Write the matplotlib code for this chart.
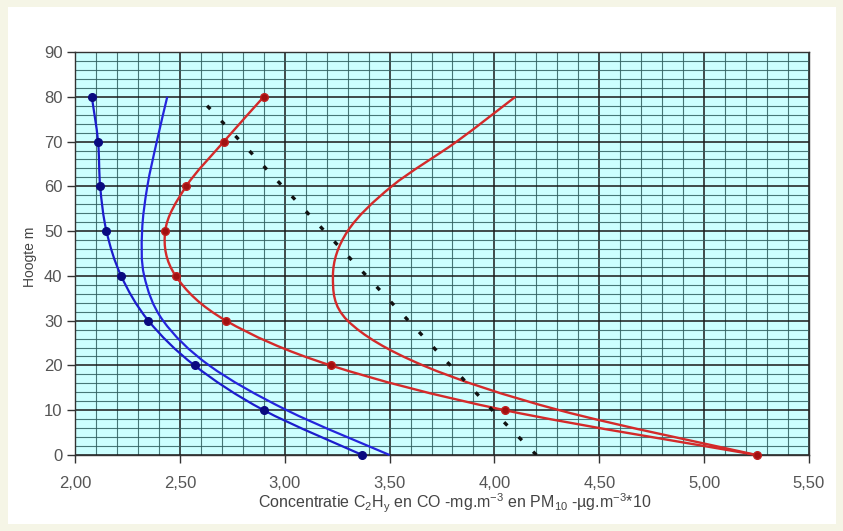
import matplotlib
matplotlib.use("Agg")
import matplotlib.pyplot as plt
from matplotlib.path import Path
from matplotlib.patches import PathPatch, Rectangle
from matplotlib.ticker import MultipleLocator, FuncFormatter

plt.rcParams['font.family'] = ['Liberation Sans', 'DejaVu Sans']
plt.rcParams['mathtext.fontset'] = 'custom'
plt.rcParams['mathtext.rm'] = 'Liberation Sans'
plt.rcParams['mathtext.it'] = 'Liberation Sans'

# ---- data ----
heights = [80, 70, 60, 50, 40, 30, 20, 10, 0]
blue_marked = [2.08, 2.11, 2.12, 2.15, 2.22, 2.35, 2.57, 2.90, 3.37]
blue_plain = [2.44, 2.39, 2.345, 2.32, 2.33, 2.42, 2.64, 3.01, 3.50]
red_marked = [2.90, 2.71, 2.53, 2.43, 2.48, 2.72, 3.22, 4.05, 5.25]
red_plain = [4.10, 3.82, 3.51, 3.30, 3.23, 3.30, 3.66, 4.31, 5.25]
dotted_heights = [78, 70, 60, 50, 40, 30, 20, 10, 0]
dotted_x = [2.63, 2.79, 2.99, 3.19, 3.39, 3.59, 3.79, 3.99, 4.20]

x_label = r"Concentratie C$_2$H$_y$ en CO -mg.m$^{-3}$ en PM$_{10}$ -µg.m$^{-3}$*10"
y_label = "Hoogte m"

fig = plt.figure(figsize=(8.43, 5.31), dpi=100, facecolor='#f5f5e6')
fig.patches.append(Rectangle((8 / 843, 7 / 531), (836 - 8) / 843, (524 - 7) / 531,
                             transform=fig.transFigure, facecolor='white',
                             edgecolor='none', zorder=-10))
ax = fig.add_axes([75 / 843, 1 - 455 / 531, (809 - 75) / 843, (455 - 52) / 531])
ax.set_facecolor('#ccffff')
ax.set_xlim(2.0, 5.5)
ax.set_ylim(0, 90)
ax.xaxis.set_major_locator(MultipleLocator(0.5))
ax.xaxis.set_minor_locator(MultipleLocator(0.1))
ax.yaxis.set_major_locator(MultipleLocator(10))
ax.yaxis.set_minor_locator(MultipleLocator(2))
ax.xaxis.set_major_formatter(FuncFormatter(lambda v, p: f"{v:.2f}".replace('.', ',')))
ax.grid(which='minor', color='#2f5f5f', lw=0.8, alpha=0.85)
ax.grid(which='major', color='#1a1a1a', lw=1.1)
ax.set_axisbelow(True)
ax.tick_params(which='minor', length=0)
ax.tick_params(which='major', length=6, width=1.0, color='#333333',
               labelsize=12, labelcolor='#555555')
ax.tick_params(axis='x', pad=9)
ax.tick_params(axis='y', pad=3)
for s in ax.spines.values():
    s.set_color('#333333')
    s.set_linewidth(1.0)


def smooth_curve(xs, ys, color, lw):
    pts = list(zip(xs, ys))
    n = len(pts)
    verts = [pts[0]]
    codes = [Path.MOVETO]
    for i in range(n - 1):
        p0 = pts[i - 1] if i > 0 else pts[i]
        p1 = pts[i]
        p2 = pts[i + 1]
        p3 = pts[i + 2] if i + 2 < n else pts[i + 1]
        c1 = (p1[0] + (p2[0] - p0[0]) / 6, p1[1] + (p2[1] - p0[1]) / 6)
        c2 = (p2[0] - (p3[0] - p1[0]) / 6, p2[1] - (p3[1] - p1[1]) / 6)
        verts += [c1, c2, p2]
        codes += [Path.CURVE4] * 3
    patch = PathPatch(Path(verts, codes), fill=False, edgecolor=color, lw=lw,
                      transform=ax.transData, zorder=3, clip_on=False)
    ax.add_patch(patch)


smooth_curve(blue_marked, heights, '#1c1ccc', 1.6)
smooth_curve(blue_plain, heights, '#2424dd', 1.6)
smooth_curve(red_marked, heights, '#d42a2a', 1.7)
smooth_curve(red_plain, heights, '#d42a2a', 1.7)
ax.plot(dotted_x, dotted_heights, color='#111111', lw=2.4,
        linestyle=(0, (1.4, 4.8)), zorder=3, dash_capstyle='butt')
ax.plot(blue_marked, heights, 'o', color='#0a0a80', ms=5.5, zorder=4, clip_on=False)
ax.plot(red_marked, heights, 'o', color='#a01010', mec='#c02020', ms=5.5, zorder=4,
        clip_on=False)

fig.text(455 / 843, 1 - 503 / 531, x_label, ha='center', va='center',
         fontsize=11.5, color='#444444')
fig.text(30 / 843, 1 - 257 / 531, y_label, ha='center', va='center',
         rotation=90, fontsize=10, color='#444444')

fig.savefig('out.png', dpi=100, facecolor=fig.get_facecolor())
